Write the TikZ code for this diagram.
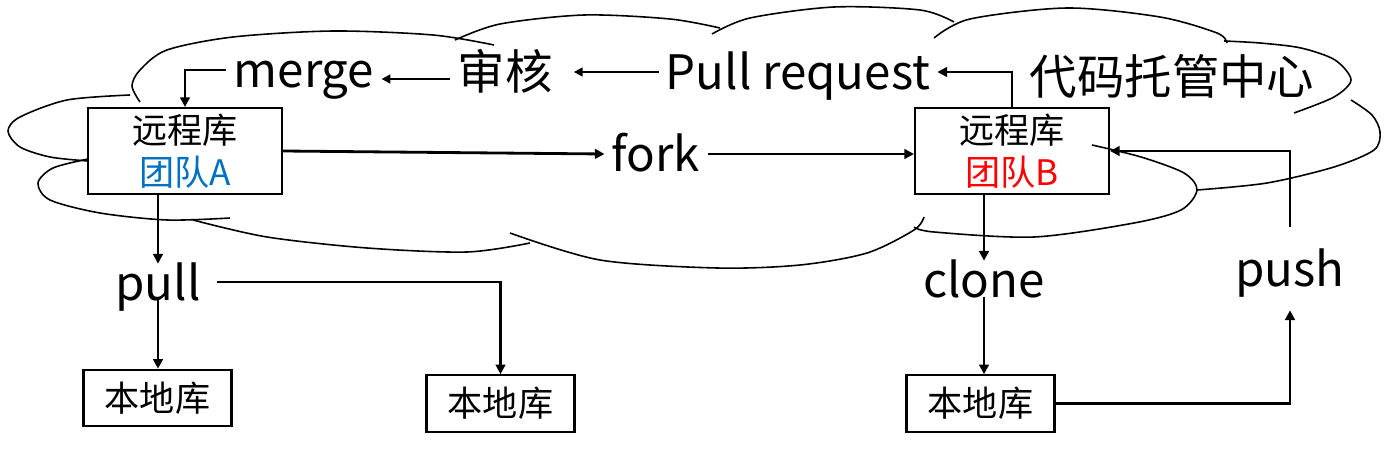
\documentclass[tikz,border=0pt]{standalone}
\usepackage{fontspec}
\setmainfont{Noto Sans CJK SC}
\usetikzlibrary{arrows.meta}
\definecolor{teamblue}{RGB}{0,112,192}
\definecolor{teamred}{RGB}{255,0,0}

\begin{document}
\begin{tikzpicture}[x=0.02cm, y=-0.02cm,
    cloudline/.style={line width=0.9pt},
    arr/.style={line width=1.6pt, -{Triangle[length=5.5pt,width=5.5pt]}},
    thinarr/.style={line width=1.2pt, -{Triangle[length=5pt,width=5pt]}},
    lbl/.style={font=\fontsize{27}{30}\selectfont, anchor=base, inner xsep=4pt, inner ysep=0pt, text height=0.72cm, text depth=0pt},
    repo/.style={draw, line width=1.2pt, minimum width=3.88cm, minimum height=1.72cm, align=center, font=\fontsize{20}{24}\selectfont, inner sep=0pt},
    local/.style={draw, line width=1.2pt, minimum width=2.96cm, minimum height=1.13cm, font=\fontsize{20}{24}\selectfont, inner sep=0pt}]
    \useasboundingbox (0,0) rectangle (1400,449);

    % Cloud lobes
    \draw[cloudline] plot[smooth] coordinates {(140,102) (132,86) (140,70) (167,50) (233,37) (333,31) (433,35) (494,45)};
    \draw[cloudline] plot[smooth, tension=0.5] coordinates {(455,40) (500,24) (584,15) (670,19) (720,28)};
    \draw[cloudline] plot[smooth, tension=0.5] coordinates {(712,34) (750,18) (834,7) (920,10) (954,22)};
    \draw[cloudline] plot[smooth, tension=0.5] coordinates {(934,38) (970,19) (1067,8) (1160,17) (1217,33) (1227,43)};
    \draw[cloudline] plot[smooth] coordinates {(1224,41) (1260,43) (1301,48) (1335,60) (1351,80) (1334,97) (1294,113)};
    \draw[cloudline] plot[smooth] coordinates {(1351,100) (1372,115) (1380,132) (1374,150) (1334,167) (1267,183) (1197,190)};
    \draw[cloudline] plot[smooth] coordinates {(1092,145) (1141,157) (1184,173) (1197,190) (1181,210) (1134,223) (1034,237) (934,232) (914,227)};
    \draw[cloudline] plot[smooth] coordinates {(924,217) (914,230) (867,253) (800,265) (717,268) (600,260) (510,233)};
    \draw[cloudline] plot[smooth] coordinates {(193,220) (267,237) (367,248) (467,252) (530,243)};
    \draw[cloudline] plot[smooth] coordinates {(230,218) (167,220) (100,213) (50,200) (38,183) (53,168) (88,159)};
    \draw[cloudline] plot[smooth] coordinates {(130,95) (67,100) (20,117) (8,131) (20,147) (50,157) (88,161)};

    % Labels
    \node[lbl] (merge) at (304,88) {merge};
    \node[lbl] (shenhe) at (505,90) {审核};
    \node[lbl] (pr) at (798,90) {Pull request};
    \node[lbl] (hub) at (1172,95) {代码托管中心};
    \node[lbl] (fork) at (656,172) {fork};
    \node[lbl] (pull) at (158,300) {pull};
    \node[lbl] (clone) at (984,297) {clone};
    \node[lbl] (push) at (1290,287) {push};

    % Repositories
    \node[repo] (repoA) at (185,151) {远程库\\\textcolor{teamblue}{团队A}};
    \node[repo] (repoB) at (1012,151) {远程库\\\textcolor{teamred}{团队B}};
    \node[local] (localA) at (157.5,398) {本地库};
    \node[local] (localC) at (500.5,403.5) {本地库};
    \node[local] (localB) at (980.5,403.5) {本地库};

    % Arrows
    \draw[arr] (merge.west) -| (repoA.north);
    \draw[thinarr] (shenhe.west |- 0,79) -- (merge.east |- 0,79);
    \draw[thinarr, shorten >=8pt] (pr.west) -- (shenhe.east);
    \draw[arr] (repoB.north) |- (pr.east);
    \draw[arr] (repoA.east) -- (fork.west);
    \draw[arr] (fork.east) -- (repoB.west |- fork.east);
    \draw[arr] ([yshift=0.48cm]push.north) |- (repoB.east);
    \draw[arr] (localB.east) -| ([yshift=-0.46cm]push.south);
    \draw[arr] (pull.north |- repoA.south) -- (pull.north);
    \draw[arr] (pull.south) -- (pull.south |- localA.north);
    \draw[arr] ([xshift=5pt]pull.east) -| (localC.north);
    \draw[arr] (clone.north |- repoB.south) -- (clone.north);
    \draw[arr] (clone.south) -- (clone.south |- localB.north);
\end{tikzpicture}
\end{document}
